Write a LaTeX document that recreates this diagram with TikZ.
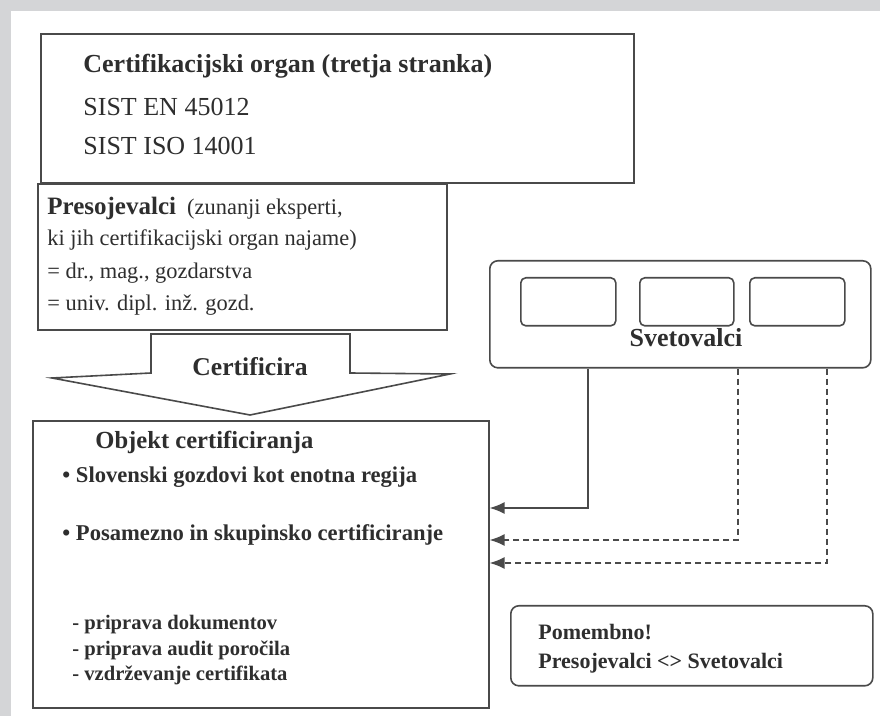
\documentclass[tikz,border=0pt]{standalone}
\usepackage{fontspec}
\setmainfont{Liberation Serif}
\usepackage{tikz}
\usetikzlibrary{arrows.meta}
\usetikzlibrary{positioning, calc}
\definecolor{linegray}{HTML}{4A4A4A}
\definecolor{txtgray}{HTML}{2E2E2E}
\definecolor{bggray}{HTML}{D4D5D7}
\tikzstyle{block} = [draw=linegray,rectangle,line width=0.8pt,anchor=north west,inner sep=0pt]
\tikzstyle{rblock} = [block,rounded corners=4pt]
\tikzstyle{txt} = [anchor=west,inner sep=0pt,text=txtgray]
\tikzstyle{connector} = [-{Latex[length=7.5pt,width=6pt]},draw=linegray,line width=0.8pt]
\tikzstyle{dashconn} = [connector,dash pattern=on 3pt off 2pt]

\begin{document}
\begin{tikzpicture}[x=0.5pt,y=-0.5pt]
  \useasboundingbox (0,0) rectangle (880,716);
  \fill[bggray] (0,0) rectangle (880,716);
  \fill[white] (11,11) rectangle (880,716);

  % certification body
  \node[block, line width=1pt, minimum width=296.5pt, minimum height=74.5pt] (organ) at (40,33) {};
  \node[txt, font=\fontsize{13}{16}\selectfont\bfseries] (organt) at (83,66) {Certifikacijski organ (tretja stranka)};
  \node[txt, font=\fontsize{13}{16}\selectfont] (sist1) at (83,107) {SIST EN 45012};
  \node[txt, font=\fontsize{13}{16}\selectfont] (sist2) at (83,146) {SIST ISO 14001};

  % auditors
  \node[block, fill=white, minimum width=204.5pt, minimum height=73pt] (preso) at (37,183) {};
  \node[txt, font=\fontsize{11.2}{14}\selectfont] (presot) at (47,208)
    {{\fontsize{12.5}{14}\selectfont\bfseries Presojevalci}\enspace(zunanji eksperti,};
  \node[txt, font=\fontsize{11.2}{14}\selectfont] (preso2) at (47,240) {ki jih certifikacijski organ najame)};
  \node[txt, font=\fontsize{11.2}{14}\selectfont] (preso3) at (47,273) {= dr., mag., gozdarstva};
  \node[txt, font=\fontsize{11.2}{14}\selectfont] (preso4) at (47,305) {= univ. dipl. inž. gozd.};

  % big arrow
  \filldraw[fill=white, draw=linegray, line width=0.8pt]
    (151,334) -- (350,334) -- (350,373) -- (450,374) -- (250,415) -- (52,378) -- (151,373) -- cycle;
  \node[txt, anchor=center, font=\fontsize{12.8}{15}\selectfont\bfseries] (certif) at (250,367) {Certificira};

  % object of certification
  \node[block, minimum width=228pt, minimum height=143.5pt] (obj) at (32,420) {};
  \node[txt, font=\fontsize{12.3}{15}\selectfont\bfseries] (objt) at (95,442) {Objekt certificiranja};
  \node[txt, font=\fontsize{11.3}{14}\selectfont\bfseries] (item1) at (62,477) {\textbullet\ Slovenski gozdovi kot enotna regija};
  \node[txt, font=\fontsize{11.3}{14}\selectfont\bfseries] (item2) at (62,535) {\textbullet\ Posamezno in skupinsko certificiranje};
  \node[txt, font=\fontsize{10.3}{12}\selectfont\bfseries] (task1) at (72,625) {- priprava dokumentov};
  \node[txt, font=\fontsize{10.3}{12}\selectfont\bfseries] (task2) at (72,650) {- priprava audit poročila};
  \node[txt, font=\fontsize{10.3}{12}\selectfont\bfseries] (task3) at (72,675) {- vzdrževanje certifikata};

  % consultants
  \node[rblock, minimum width=190.5pt, minimum height=53.5pt] (svet) at (489,260) {};
  \node[rblock, rounded corners=2.5pt, minimum width=47.5pt, minimum height=24pt] (sv1) at (520,277) {};
  \node[rblock, rounded corners=2.5pt, minimum width=47pt, minimum height=24pt] (sv2) at (639,277) {};
  \node[rblock, rounded corners=2.5pt, minimum width=47.5pt, minimum height=24pt] (sv3) at (749,277) {};
  \node[txt, anchor=center, font=\fontsize{13}{15}\selectfont\bfseries] (svett) at (686,338) {Svetovalci};

  % note
  \node[rblock, minimum width=181pt, minimum height=40pt] (note) at (510,605) {};
  \node[txt, font=\fontsize{11}{14}\selectfont\bfseries] (note1) at (538,632) {Pomembno!};
  \node[txt, font=\fontsize{11}{14}\selectfont\bfseries] (note2) at (538,663) {Presojevalci <> Svetovalci};

% now link the nodes
  \coordinate (out1) at (588,367);
  \coordinate (out2) at (738,367);
  \coordinate (out3) at (827,367);
  \coordinate (in1) at (488,508);
  \coordinate (in2) at (488,540);
  \coordinate (in3) at (488,563);

\draw [connector] (svet.south -| out1) |- (obj.east |- in1);
\draw [dashconn] (svet.south -| out2) |- (obj.east |- in2);
\draw [dashconn] (svet.south -| out3) |- (obj.east |- in3);
\end{tikzpicture}
\end{document}
